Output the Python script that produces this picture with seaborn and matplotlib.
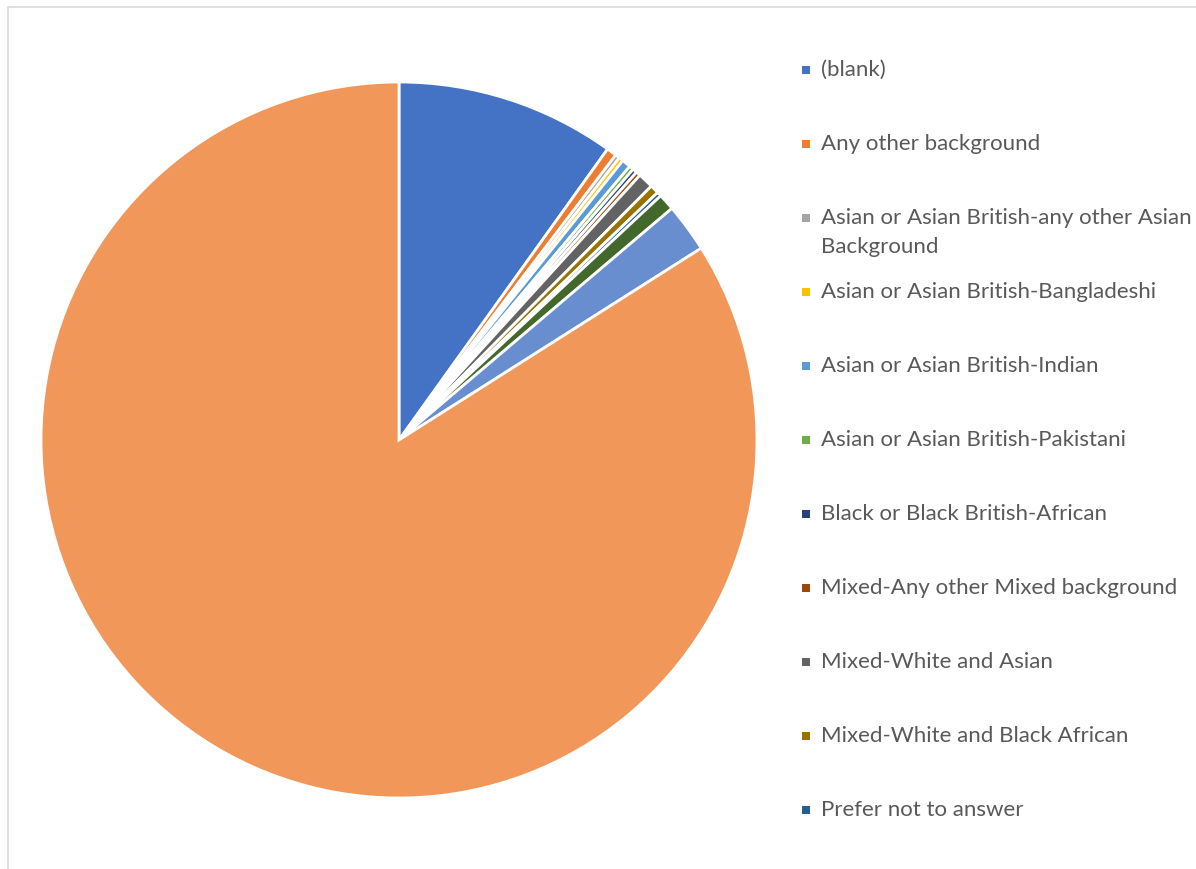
import matplotlib
matplotlib.use("Agg")
import matplotlib.pyplot as plt
import seaborn as sns
from matplotlib.patches import Rectangle

sns.set_theme(style="white")
plt.rcParams['font.family'] = ['Lato', 'DejaVu Sans']

categories = [
    "(blank)",
    "Any other background",
    "Asian or Asian British-any other Asian\nBackground",
    "Asian or Asian British-Bangladeshi",
    "Asian or Asian British-Indian",
    "Asian or Asian British-Pakistani",
    "Black or Black British-African",
    "Mixed-Any other Mixed background",
    "Mixed-White and Asian",
    "Mixed-White and Black African",
    "Prefer not to answer",
    "Other ethnic group",
    "White-Any other White background",
    "White-British",
]
values = [9.9, 0.45, 0.2, 0.2, 0.4, 0.2, 0.2, 0.2, 0.7, 0.4, 0.2, 0.75, 2.2, 84.0]
colors = ["#4472C4", "#ED7D31", "#A5A5A5", "#FFC000", "#5B9BD5", "#70AD47",
          "#264478", "#9E480E", "#636363", "#997300", "#255E91", "#43682B",
          "#698ED0", "#F1975A"]
legend_count = 11

W, H = 1196, 869
fig = plt.figure(figsize=(W / 100, H / 100), dpi=100)
fig.patch.set_facecolor("white")

# frame
fig.add_artist(Rectangle((8 / W, -0.01), 1.1, (H - 7) / H + 0.01,
                         transform=fig.transFigure, fill=False,
                         edgecolor="#D9D9D9", linewidth=1.2))

cx, cy, r = 399, 440, 358
ax = fig.add_axes([(cx - r) / W, (H - cy - r) / H, 2 * r / W, 2 * r / H])
ax.pie(values, colors=colors, startangle=90, counterclock=False, radius=1,
       wedgeprops=dict(edgecolor="white", linewidth=2.0))
ax.set_xlim(-1, 1)
ax.set_ylim(-1, 1)
ax.set_aspect("equal")
ax.axis("off")

# legend
y0, dy = 70, 74
for i in range(legend_count):
    y = y0 + i * dy
    fig.add_artist(Rectangle((802 / W, (H - y - 4) / H), 8 / W, 8 / H,
                             transform=fig.transFigure, facecolor=colors[i],
                             edgecolor="none"))
    lines = categories[i].split("\n")
    for j, line in enumerate(lines):
        fig.text(821 / W, (H - y - j * 29) / H, line, ha="left", va="center",
                 fontsize=16, color="#595959")

fig.savefig("out.png", dpi=100, facecolor="white")
